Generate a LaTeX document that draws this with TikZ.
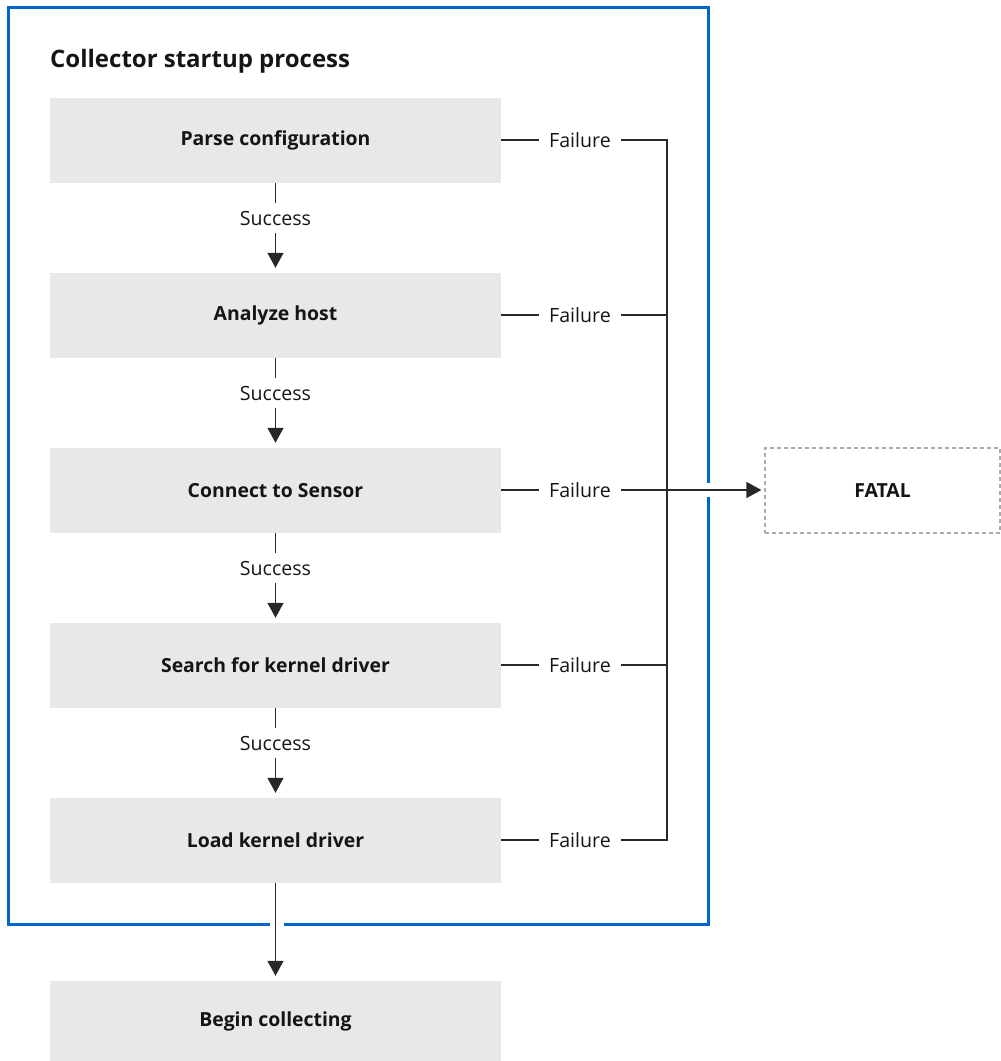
\documentclass[tikz,border=0pt]{standalone}
\usepackage{fontspec}
\setmainfont{Open Sans}
\usetikzlibrary{arrows.meta}
\definecolor{boxgray}{RGB}{232,232,232}
\definecolor{frameblue}{RGB}{0,102,204}
\definecolor{linegray}{RGB}{40,40,40}
\definecolor{dashgray}{RGB}{170,170,170}
\definecolor{textdark}{RGB}{21,21,21}
\begin{document}
\begin{tikzpicture}[x=1pt,y=-1pt,
  stepbox/.style={rectangle,fill=boxgray,minimum width=451pt,minimum height=85pt,inner sep=0pt,
    text=textdark,font=\fontsize{19.4}{23}\selectfont\bfseries},
  succlabel/.style={inner sep=0pt,minimum height=30pt,text=textdark,font=\fontsize{19.6}{22}\selectfont},
  faillabel/.style={inner xsep=10pt,inner ysep=0pt,text=textdark,font=\fontsize{19.6}{22}\selectfont},
  conn/.style={draw=linegray,line width=1.4pt},
  arr/.style={conn,-{Triangle[length=15pt,width=16pt]}},
  frame/.style={draw=frameblue,line width=3pt},
]
\useasboundingbox (0,0) rectangle (1001,1061);

% blue frame with gaps
\draw[frame] (708,483) -- (708,7) -- (8,7) -- (8,924) -- (270,924);
\draw[frame] (284,924) -- (708,924) -- (708,497);

\node[anchor=base west,inner sep=0pt,text=textdark,font=\fontsize{24}{28}\selectfont\bfseries] (title) at (50,67) {Collector startup process};

\node[stepbox] (b1) at (275.5,140.5) {Parse configuration};
\node[stepbox] (b2) at (275.5,315.5) {Analyze host};
\node[stepbox] (b3) at (275.5,490.5) {Connect to Sensor};
\node[stepbox] (b4) at (275.5,665.5) {Search for kernel driver};
\node[stepbox] (b5) at (275.5,840.5) {Load kernel driver};
\node[stepbox,minimum height=80pt] (b6) at (275.5,1021) {Begin collecting};

\node[draw=dashgray,dashed,dash pattern=on 4pt off 3pt,line width=1.2pt,minimum width=235pt,minimum height=85pt,
  inner sep=0pt,text=textdark,font=\fontsize{19.4}{23}\selectfont\bfseries] (fatal) at (882.5,490.5) {FATAL};

% success arrows
\foreach \a/\b/\y in {b1/b2/218,b2/b3/393,b3/b4/568,b4/b5/743}{
  \node[succlabel] (s\a) at (275.5,\y) {Success};
  \draw[conn] (\a.south) -- (s\a.north);
  \draw[arr,shorten >=5pt] (s\a.south) -- (\b.north);
}
\draw[arr,shorten >=5pt] (b5.south) -- (b6.north);

% failure labels
\foreach \b/\y in {b1/140,b2/315,b3/490,b4/665,b5/840}{
  \node[faillabel] (f\b) at (580,\y) {Failure};
  \draw[conn] (\b.east |- f\b.west) -- (f\b.west);
}
\coordinate (bustop) at (667,140);
\coordinate (busbot) at (667,840);
\draw[conn] (fb1.east) -- (bustop) -- (busbot) -- (fb5.east);
\draw[conn] (fb2.east) -- (fb2.east -| bustop);
\draw[conn] (fb4.east) -- (fb4.east -| bustop);
\draw[arr,shorten >=3pt] (fb3.east) -- (fatal.west |- fb3.east);
\end{tikzpicture}
\end{document}
